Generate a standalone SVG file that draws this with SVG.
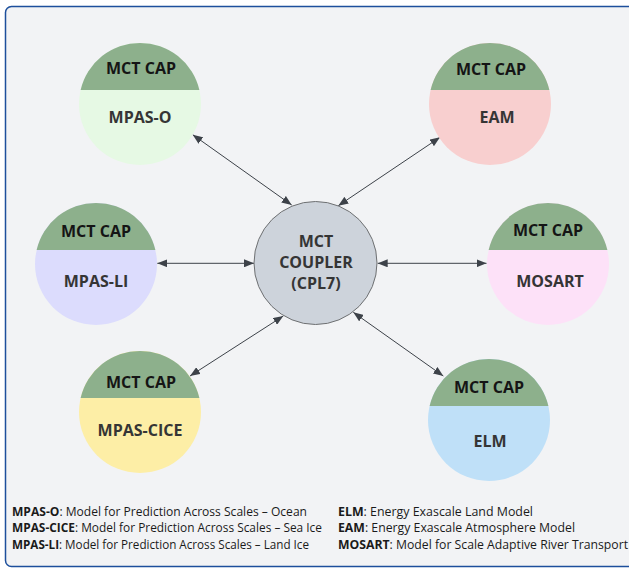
<svg xmlns="http://www.w3.org/2000/svg" width="629" height="568" viewBox="0 0 629 568">
<defs>
<style>
.cap{fill:#8db08c}
.t{font-family:"Open Sans","Noto Sans",sans-serif;font-weight:700;text-anchor:middle}
.capt{font-size:16px;fill:#151515}
.name{font-size:16px;fill:#353535}
.conn{stroke:#3d4249;stroke-width:1;fill:none;marker-start:url(#ah);marker-end:url(#ah)}
.leg{font-family:"Open Sans","Noto Sans",sans-serif;font-size:12px;fill:#1a1a1a}
.leg tspan.b{font-weight:700}
</style>
<marker id="ah" viewBox="0 0 10 8" refX="10" refY="4" markerWidth="10" markerHeight="8" markerUnits="userSpaceOnUse" orient="auto-start-reverse">
<path d="M0,0 L10,4 L0,8 Z" fill="#3d4249"/>
</marker>
</defs>
<rect x="0" y="0" width="629" height="568" fill="#ffffff"/>
<rect x="5.5" y="6.5" width="640" height="560" rx="6" fill="#f2f3f5" stroke="#1d4f9c" stroke-width="1.5"/>

<g id="connectors">
<line class="conn" x1="192.7" y1="134.7" x2="291.7" y2="205"/>
<line class="conn" x1="440" y1="137.3" x2="338.3" y2="205.7"/>
<line class="conn" x1="157.3" y1="263.3" x2="254" y2="263.3"/>
<line class="conn" x1="377.7" y1="263.3" x2="486.5" y2="263.3"/>
<line class="conn" x1="190" y1="376" x2="283.3" y2="316"/>
<line class="conn" x1="353.3" y1="312.3" x2="443.3" y2="376"/>
</g>

<g id="coupler">
<circle cx="315.5" cy="263" r="61.5" fill="#cdd3db" stroke="#6e7072" stroke-width="1"/>
<text class="t name" x="316" y="246.5">MCT</text>
<text class="t name" x="316" y="267.5">COUPLER</text>
<text class="t name" x="316" y="288.5">(CPL7)</text>
</g>

<g id="mpas-o">
<circle cx="140" cy="104" r="61" fill="#e6f9e4"/>
<path class="cap" d="M80.6,90 A61,61 0 0 1 199.4,90 Z"/>
<text class="t capt" x="141" y="74">MCT CAP</text>
<text class="t name" x="140" y="123">MPAS-O</text>
</g>

<g id="eam">
<circle cx="490" cy="104" r="61" fill="#f8cfcf"/>
<path class="cap" d="M430.6,90 A61,61 0 0 1 549.4,90 Z"/>
<text class="t capt" x="491" y="75">MCT CAP</text>
<text class="t name" x="497" y="123">EAM</text>
</g>

<g id="mpas-li">
<circle cx="96" cy="264" r="61" fill="#dcdcfd"/>
<path class="cap" d="M36.6,250 A61,61 0 0 1 155.4,250 Z"/>
<text class="t capt" x="96" y="237">MCT CAP</text>
<text class="t name" x="96" y="287">MPAS-LI</text>
</g>

<g id="mosart">
<circle cx="548" cy="264" r="61" fill="#fde1f8"/>
<path class="cap" d="M488.6,250 A61,61 0 0 1 607.4,250 Z"/>
<text class="t capt" x="548" y="236">MCT CAP</text>
<text class="t name" x="550" y="287">MOSART</text>
</g>

<g id="mpas-cice">
<circle cx="140" cy="412" r="61" fill="#fdeea6"/>
<path class="cap" d="M80.6,398 A61,61 0 0 1 199.4,398 Z"/>
<text class="t capt" x="141" y="388">MCT CAP</text>
<text class="t name" x="140" y="436">MPAS-CICE</text>
</g>

<g id="elm">
<circle cx="489" cy="420" r="61" fill="#bfe0f8"/>
<path class="cap" d="M429.6,406 A61,61 0 0 1 548.4,406 Z"/>
<text class="t capt" x="489" y="393">MCT CAP</text>
<text class="t name" x="490" y="447">ELM</text>
</g>

<g id="legend">
<text class="leg" x="12" y="516" textLength="295" lengthAdjust="spacingAndGlyphs"><tspan class="b">MPAS-O</tspan>: Model for Prediction Across Scales – Ocean</text>
<text class="leg" x="12" y="532" textLength="310" lengthAdjust="spacingAndGlyphs"><tspan class="b">MPAS-CICE</tspan>: Model for Prediction Across Scales – Sea Ice</text>
<text class="leg" x="12" y="549" textLength="297" lengthAdjust="spacingAndGlyphs"><tspan class="b">MPAS-LI</tspan>: Model for Prediction Across Scales – Land Ice</text>
<text class="leg" x="338" y="516" textLength="195" lengthAdjust="spacingAndGlyphs"><tspan class="b">ELM</tspan>: Energy Exascale Land Model</text>
<text class="leg" x="338" y="532" textLength="237" lengthAdjust="spacingAndGlyphs"><tspan class="b">EAM</tspan>: Energy Exascale Atmosphere Model</text>
<text class="leg" x="338" y="549" textLength="290" lengthAdjust="spacingAndGlyphs"><tspan class="b">MOSART</tspan>: Model for Scale Adaptive River Transport</text>
</g>
</svg>
